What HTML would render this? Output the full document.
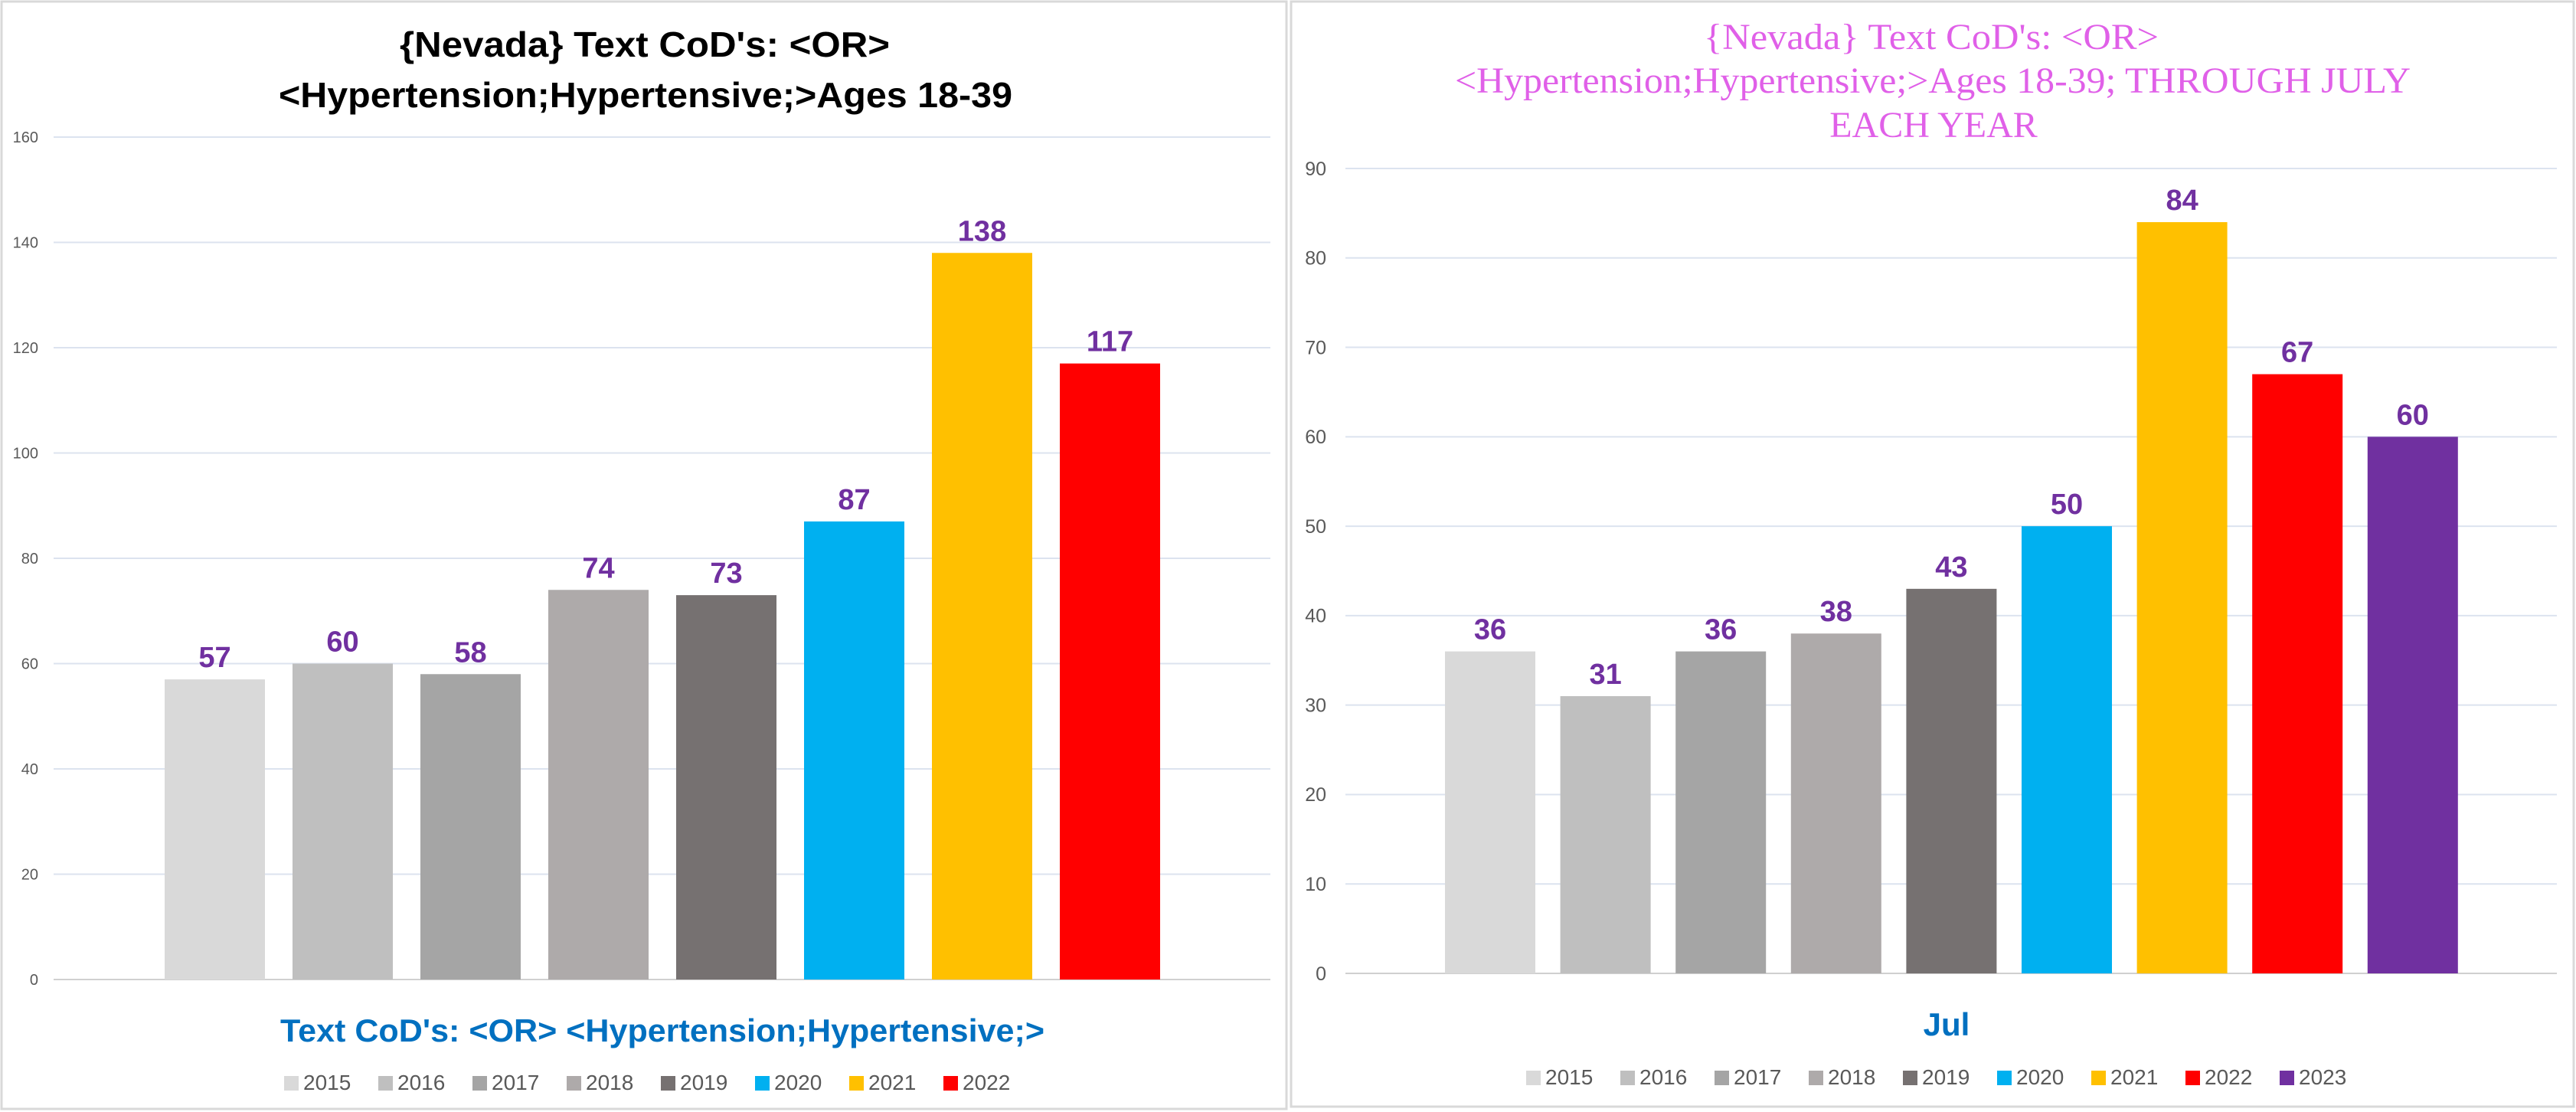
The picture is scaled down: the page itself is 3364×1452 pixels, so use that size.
<!DOCTYPE html>
<html><head><meta charset="utf-8"><style>
html,body{margin:0;padding:0;background:#fff;}
svg{display:block;}
</style></head><body>
<svg id="svg" width="3364" height="1452" xmlns="http://www.w3.org/2000/svg">
<rect x="2" y="2" width="1678" height="1446" fill="#fff" stroke="#d9d9d9" stroke-width="3"/>
<rect x="1686" y="2" width="1675" height="1443" fill="#fff" stroke="#d9d9d9" stroke-width="3"/>
<g id="left">
<text x="842" y="74" text-anchor="middle" font-family="Liberation Sans, sans-serif" font-weight="bold" font-size="46" fill="#000" textLength="640" lengthAdjust="spacingAndGlyphs">{Nevada}  Text CoD's: &lt;OR&gt;</text>
<text x="843" y="140" text-anchor="middle" font-family="Liberation Sans, sans-serif" font-weight="bold" font-size="46" fill="#000" textLength="958" lengthAdjust="spacingAndGlyphs">&lt;Hypertension;Hypertensive;&gt;Ages 18-39</text>
<text x="865" y="1360" text-anchor="middle" font-family="Liberation Sans, sans-serif" font-weight="bold" font-size="42" fill="#0070C0" textLength="998" lengthAdjust="spacingAndGlyphs">Text CoD's: &lt;OR&gt; &lt;Hypertension;Hypertensive;&gt;</text>
</g>
<g id="right">
<text x="2522" y="64" text-anchor="middle" font-family="Liberation Serif, serif" font-size="48" fill="#E060E8" textLength="594" lengthAdjust="spacingAndGlyphs">{Nevada}   Text CoD's: &lt;OR&gt;</text>
<text x="2524" y="121" text-anchor="middle" font-family="Liberation Serif, serif" font-size="48" fill="#E060E8" textLength="1248" lengthAdjust="spacingAndGlyphs">&lt;Hypertension;Hypertensive;&gt;Ages 18-39; THROUGH JULY</text>
<text x="2525" y="179" text-anchor="middle" font-family="Liberation Serif, serif" font-size="48" fill="#E060E8">EACH YEAR</text>
<text x="2542" y="1352" text-anchor="middle" font-family="Liberation Sans, sans-serif" font-weight="bold" font-size="42" fill="#0070C0">Jul</text>
</g>
</svg>
<script>
const colors = ["#D9D9D9","#BFBFBF","#A5A5A5","#AEAAAA","#767171","#00B0F0","#FFC000","#FF0000","#7030A0"];
const leftYears = ["2015","2016","2017","2018","2019","2020","2021","2022"];
const leftValues = [57,60,58,74,73,87,138,117];
const leftTicks = [0,20,40,60,80,100,120,140,160];
const rightYears = ["2015","2016","2017","2018","2019","2020","2021","2022","2023"];
const rightValues = [36,31,36,38,43,50,84,67,60];
const rightTicks = [0,10,20,30,40,50,60,70,80,90];

const NS = "http://www.w3.org/2000/svg";
function mk(tag, attrs, parent){const e=document.createElementNS(NS,tag);for(const k in attrs)e.setAttribute(k,attrs[k]);parent.appendChild(e);return e;}

function drawChart(gid, cfg, years, values, ticks){
  const g=document.getElementById(gid);
  const maxV=ticks[ticks.length-1];
  const y=v=>cfg.y0-(v/maxV)*(cfg.y0-cfg.yTop);
  ticks.forEach(t=>{
    const l=mk("line",{x1:cfg.gx1,x2:cfg.gx2,y1:y(t),y2:y(t),stroke:t===0?"#d0d0d0":"#dce3ef","stroke-width":2},g);
    
    
    const tx=mk("text",{x:cfg.labX,y:y(t)+cfg.tickFs*0.35,"text-anchor":"end","font-family":"Liberation Sans, sans-serif","font-size":cfg.tickFs,fill:"#595959"},g);
    tx.textContent=t;
    
    
  });
  values.forEach((v,i)=>{
    const x=cfg.bx0+i*cfg.step;
    const r=mk("rect",{x:x,y:y(v),width:cfg.bw,height:cfg.y0-y(v),fill:colors[i]},g);
    
    
    const lb=mk("text",{x:x+cfg.bw/2,y:y(v)-16,"text-anchor":"middle","font-family":"Liberation Sans, sans-serif","font-weight":"bold","font-size":38,fill:"#7030A0"},g);
    lb.textContent=v;
    
    
    const lx=cfg.legX+i*cfg.legStep;
    const sq=mk("rect",{x:lx,y:cfg.legY-18,width:19,height:19,fill:colors[i]},g);
    
    
    const lt=mk("text",{x:lx+25,y:cfg.legY,"font-family":"Liberation Sans, sans-serif","font-size":28,fill:"#595959"},g);
    lt.textContent=years[i];
    
    
  });
}
drawChart("left",{y0:1279,yTop:179,gx1:70,gx2:1659,labX:50,tickFs:20,bx0:215,step:167,bw:131,legX:371,legStep:123,legY:1423},leftYears,leftValues,leftTicks);
drawChart("right",{y0:1271,yTop:220,gx1:1757,gx2:3339,labX:1732,tickFs:25,bx0:1887,step:150.6,bw:118,legX:1993,legStep:123,legY:1416},rightYears,rightValues,rightTicks);
</script>
</body></html>
